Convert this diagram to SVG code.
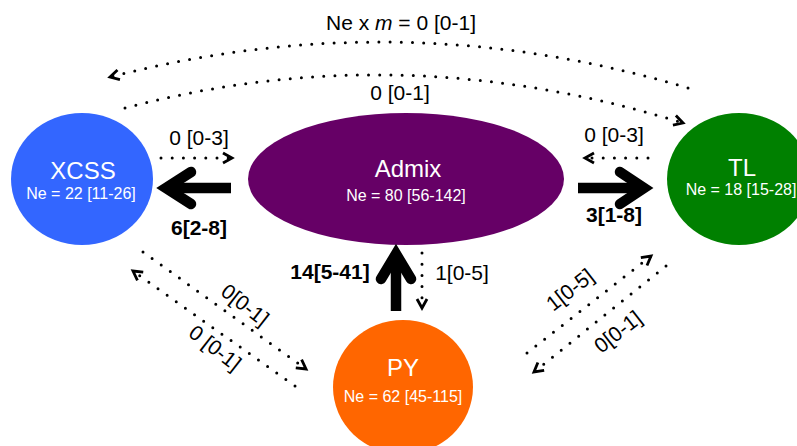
<svg xmlns="http://www.w3.org/2000/svg" width="797" height="446" viewBox="0 0 797 446">
<defs>
<marker id="chev" markerUnits="userSpaceOnUse" markerWidth="14" markerHeight="14" refX="10" refY="5.5" orient="auto" overflow="visible">
<path d="M1,0.5 L10,5.5 L1,10.5" fill="none" stroke="#000" stroke-width="2.8" stroke-linejoin="miter"/>
</marker>
<style>
.dot{fill:none;stroke:#000;stroke-width:3;stroke-linecap:round;stroke-dasharray:0 11.2;marker-end:url(#chev)}
.shaft{fill:none;stroke:#000;stroke-width:10.5;stroke-linecap:butt}
.head{fill:none;stroke:#000;stroke-width:10.5;stroke-linecap:round;stroke-linejoin:miter;stroke-miterlimit:4}
.lbl{font-family:"Liberation Sans",Arial,sans-serif;font-size:21px;fill:#000;text-anchor:middle}
.bl{font-family:"Liberation Sans",Arial,sans-serif;font-size:21px;font-weight:bold;fill:#000;text-anchor:middle}
.nm{font-family:"Liberation Sans",Arial,sans-serif;font-size:24px;fill:#fff;text-anchor:middle}
.ne{font-family:"Liberation Sans",Arial,sans-serif;font-size:16px;fill:#fff;text-anchor:middle}
</style>
</defs>
<rect width="797" height="446" fill="#fff"/>

<g id="XCSS">
<ellipse cx="82" cy="179" rx="71" ry="66" fill="#3366FF"/>
<text class="nm" x="83" y="179">XCSS</text>
<text class="ne" x="81" y="199">Ne = 22 [11-26]</text>
</g>
<g id="Admix">
<ellipse cx="406" cy="179" rx="158" ry="66" fill="#660066"/>
<text class="nm" x="408" y="177">Admix</text>
<text class="ne" x="406" y="201">Ne = 80 [56-142]</text>
</g>
<g id="TL">
<ellipse cx="739" cy="179" rx="72" ry="66" fill="#008000"/>
<text class="nm" x="742" y="176">TL</text>
<text class="ne" x="741" y="195">Ne = 18 [15-28]</text>
</g>
<g id="PY">
<ellipse cx="403" cy="387" rx="70" ry="67" fill="#FF6600"/>
<text class="nm" x="403" y="376">PY</text>
<text class="ne" x="403" y="402">Ne = 62 [45-115]</text>
</g>

<g id="connectors">
<path class="dot" d="M688,88 Q400,2 110,77"/>
<path class="dot" d="M125,108 Q400,35 683,123"/>
<path class="dot" d="M161,158 L232,158"/>
<path class="dot" d="M648,158 L585,158"/>
<path class="dot" d="M422,253 L422,308"/>
<path class="dot" d="M143,252 L306,369"/>
<path class="dot" d="M295,386 L133,271"/>
<path class="dot" d="M527,353 L651,256"/>
<path class="dot" d="M666,266 L534,372"/>
<path class="shaft" d="M231,188 L168,188"/>
<path class="head" d="M191,172 L166,188 L191,204"/>
<path class="shaft" d="M578,188 L642,188"/>
<path class="head" d="M620,172 L644,188 L620,204"/>
<path class="shaft" d="M396,311 L396,258"/>
<path class="head" d="M381,279 L396,254 L411,279"/>
</g>

<g id="labels">
<text class="lbl" x="401" y="30">Ne x <tspan font-style="italic">m</tspan> = 0 [0-1]</text>
<text class="lbl" x="400" y="100">0 [0-1]</text>
<text class="lbl" x="199" y="145">0 [0-3]</text>
<text class="lbl" x="614" y="142">0 [0-3]</text>
<text class="bl" x="199" y="235">6[2-8]</text>
<text class="bl" x="614" y="222">3[1-8]</text>
<text class="bl" x="330" y="279">14[5-41]</text>
<text class="lbl" x="462" y="280">1[0-5]</text>
<text class="lbl" transform="translate(245,305) rotate(38)" y="7">0[0-1]</text>
<text class="lbl" transform="translate(215,348) rotate(38)" y="7">0 [0-1]</text>
<text class="lbl" transform="translate(570,290) rotate(-38)" y="7">1[0-5]</text>
<text class="lbl" transform="translate(618,332) rotate(-38)" y="7">0[0-1]</text>
</g>
</svg>
